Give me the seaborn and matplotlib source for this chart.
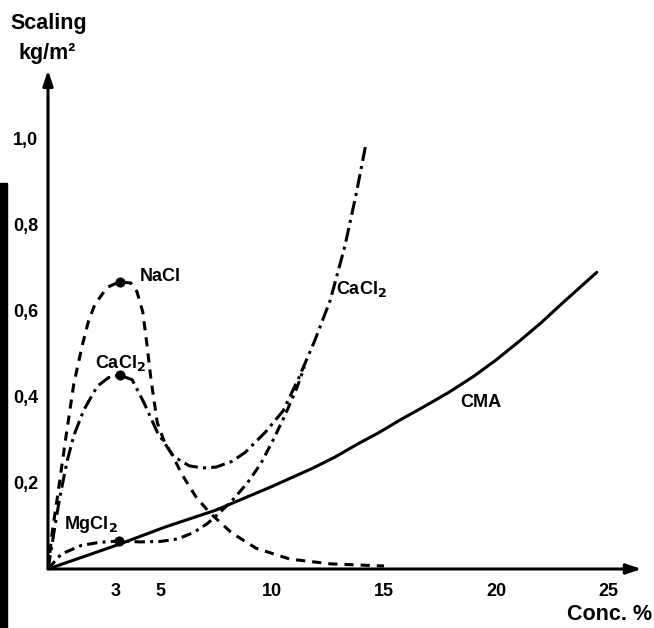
import matplotlib
matplotlib.use('Agg')
import matplotlib.pyplot as plt
import seaborn as sns
from matplotlib.patches import Rectangle

# curve data (conc. % vs scaling kg/m2)
nacl_x = [0, 0.2, 0.4, 0.78, 1.15, 1.53, 1.8, 2.09, 2.64, 3.2, 3.7, 3.97, 4.23, 4.41, 4.6, 4.88,
          5.2, 5.5, 5.98, 6.6, 7.2, 8.2, 9.3, 10.8, 12.6, 15.0]
nacl_y = [0, 0.09, 0.16, 0.30, 0.43, 0.52, 0.575, 0.615, 0.655, 0.668, 0.665, 0.645, 0.598, 0.525, 0.44, 0.34,
          0.295, 0.27, 0.22, 0.168, 0.132, 0.084, 0.048, 0.023, 0.012, 0.007]

cacl_x = [0, 0.13, 0.31, 0.54, 0.85, 1.15, 1.6, 2.2, 2.7, 3.2, 3.76, 4.3, 4.88, 5.6, 6.3, 6.9,
          7.5, 8.2, 8.8, 9.7, 10.5, 11.2, 11.9, 12.6, 13.25, 13.75, 14.2]
cacl_y = [0, 0.04, 0.10, 0.17, 0.25, 0.31, 0.37, 0.425, 0.445, 0.451, 0.44, 0.385, 0.318, 0.262, 0.24, 0.235,
          0.237, 0.25, 0.271, 0.318, 0.368, 0.445, 0.53, 0.625, 0.75, 0.87, 0.99]

mgcl_x = [0, 0.6, 1.5, 2.3, 3.15, 4.1, 5.0, 5.8, 6.5, 7.1, 7.7, 8.2, 8.9, 9.5, 10.1, 10.6, 11.1, 11.45]
mgcl_y = [0, 0.035, 0.055, 0.062, 0.065, 0.063, 0.064, 0.07, 0.085, 0.105, 0.133, 0.158, 0.2, 0.245,
          0.305, 0.36, 0.42, 0.47]

cma_x = [0, 3.1, 5.25, 7.5, 10, 11.8, 12.8, 13.8, 14.8, 15.7, 16.8, 17.9, 19, 20, 21, 22, 23, 24.5]
cma_y = [0, 0.056, 0.098, 0.137, 0.192, 0.234, 0.26, 0.29, 0.318, 0.346, 0.378, 0.411, 0.448, 0.486,
         0.528, 0.572, 0.62, 0.69]

# marked maxima
dot_x = [3.2, 3.2, 3.15]
dot_y = [0.668, 0.451, 0.065]

x_ticks = [3, 5, 10, 15, 20, 25]
y_ticks = [0.2, 0.4, 0.6, 0.8, 1.0]
y_labels = ['0,2', '0,4', '0,6', '0,8', '1,0']

sns.set_style('white')
plt.rcParams['font.family'] = ['Liberation Sans', 'DejaVu Sans']
plt.rcParams['font.weight'] = 'bold'
plt.rcParams['mathtext.default'] = 'bf'
plt.rcParams['text.color'] = 'black'
plt.rcParams['xtick.color'] = 'black'
plt.rcParams['ytick.color'] = 'black'

fig = plt.figure(figsize=(6.54, 6.28), dpi=100)
ax = fig.add_axes([48 / 654, 59 / 628, 593.6 / 654, 498.8 / 628])

lw = 2.2
sns.lineplot(x=nacl_x, y=nacl_y, ax=ax, color='black', lw=lw, sort=False, estimator=None,
             linestyle=(0, (3.0, 2.3)))
sns.lineplot(x=cacl_x, y=cacl_y, ax=ax, color='black', lw=lw, sort=False, estimator=None,
             linestyle=(0, (4.6, 1.7, 1.0, 1.7)))
sns.lineplot(x=mgcl_x, y=mgcl_y, ax=ax, color='black', lw=lw, sort=False, estimator=None,
             linestyle=(0, (3.4, 1.7, 1.0, 1.7)))
sns.lineplot(x=cma_x, y=cma_y, ax=ax, color='black', lw=lw, sort=False, estimator=None)
sns.scatterplot(x=dot_x, y=dot_y, ax=ax, color='black', s=45, edgecolor='black', zorder=5)

ax.set_xlim(0, 26.5)
ax.set_ylim(0, 1.16)
for s in ax.spines.values():
    s.set_visible(False)

# axes drawn as arrows
arrow = dict(arrowstyle='-|>,head_length=0.9,head_width=0.3', lw=2.2, color='black',
             shrinkA=0, shrinkB=0)
ax.annotate('', xy=(0, 1), xytext=(0, 0), xycoords='axes fraction', arrowprops=arrow)
ax.annotate('', xy=(1, 0), xytext=(0, 0), xycoords='axes fraction', arrowprops=arrow)

ax.set_xticks(x_ticks)
ax.set_xticklabels([str(t) for t in x_ticks])
ax.set_yticks(y_ticks)
ax.set_yticklabels(y_labels)
ax.tick_params(direction='out', length=5, width=1.5, labelsize=13, pad=2)
ax.tick_params(axis='x', pad=5)
ax.set_xlabel('')
ax.set_ylabel('')

# curve labels
fs = 13
ax.text(4.1, 0.68, 'NaCl', fontsize=fs, va='center', ha='left')
ax.text(2.1, 0.48, 'CaCl$_2$', fontsize=fs, va='center', ha='left')
ax.text(0.7, 0.103, 'MgCl$_2$', fontsize=fs, va='center', ha='left')
ax.text(12.85, 0.65, 'CaCl$_2$', fontsize=fs, va='center', ha='left')
ax.text(18.4, 0.388, 'CMA', fontsize=fs, va='center', ha='left')

fig.text(49 / 654, 1 - 23 / 628, 'Scaling', fontsize=15.5, ha='center', va='center')
fig.text(47 / 654, 1 - 54 / 628, 'kg/m²', fontsize=15.5, ha='center', va='center')
fig.text(652 / 654, 1 - 615 / 628, 'Conc. %', fontsize=15.5, ha='right', va='center')

# dark scan edge on the left
fig.patches.append(Rectangle((0, 0), 7 / 654, 445 / 628, transform=fig.transFigure,
                             color='black', zorder=0))

fig.savefig('out.png', dpi=100)
